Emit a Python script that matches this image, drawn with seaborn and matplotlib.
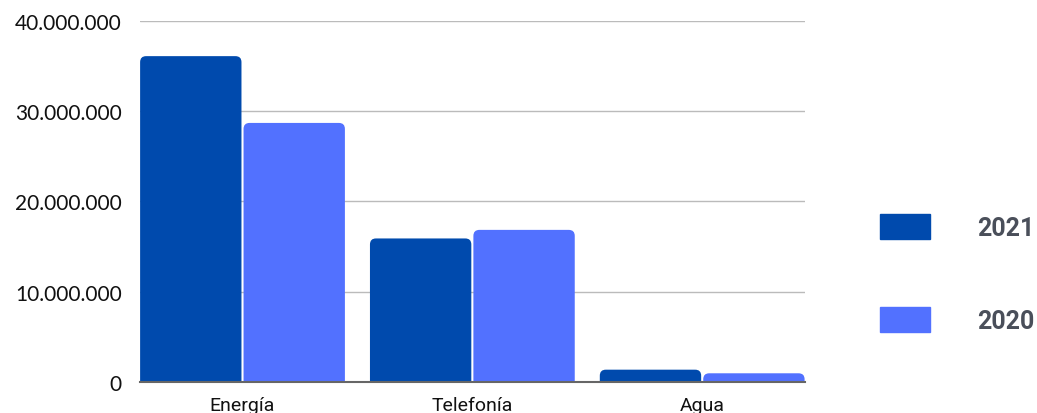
import pandas as pd
import seaborn as sns
import matplotlib.pyplot as plt
from matplotlib.ticker import FuncFormatter
from matplotlib.patches import Patch, FancyBboxPatch

categorias = ['Energía', 'Telefonía', 'Agua']
valores_2021 = [36100000, 15900000, 1360000]
valores_2020 = [28700000, 16850000, 960000]
anios = ['2021', '2020']
colores = {'2021': '#004AAD', '2020': '#5271FF'}

df = pd.DataFrame({
    'categoria': categorias * 2,
    'valor': valores_2021 + valores_2020,
    'anio': ['2021'] * 3 + ['2020'] * 3,
})

sns.set_style('white')
plt.rcParams['font.family'] = ['Lato', 'DejaVu Sans']

fig = plt.figure(figsize=(10.37, 4.14), dpi=100)
ax = fig.add_axes([0.135, 0.075, 0.641, 0.872])

sns.barplot(data=df, x='categoria', y='valor', hue='anio', hue_order=anios,
            palette=colores, width=0.9, gap=0.02, saturation=1,
            legend=False, ax=ax)

# esquinas redondeadas arriba (el borde de abajo queda bajo el eje)
r_x = 6 / 230
r_y = 6 * 40000000 / 361
for p in list(ax.patches):
    x, y, w, h = p.get_x(), p.get_y(), p.get_width(), p.get_height()
    c = p.get_facecolor()
    p.remove()
    nb = FancyBboxPatch((x, y - r_y), w, h + r_y,
                        boxstyle=f'round,pad=0,rounding_size={r_x}',
                        mutation_aspect=r_y / r_x, facecolor=c,
                        edgecolor='none', zorder=2)
    ax.add_patch(nb)

ax.set_xlim(-0.446, 2.446)
ax.set_ylim(0, 40000000)
ax.set_yticks([0, 10000000, 20000000, 30000000, 40000000])
ax.yaxis.set_major_formatter(FuncFormatter(lambda v, p: f'{int(v):,}'.replace(',', '.')))
ax.grid(axis='y', color='#bbbbbb', linewidth=1)
ax.set_axisbelow(True)
for s in ['top', 'right', 'left']:
    ax.spines[s].set_visible(False)
ax.spines['bottom'].set_color('#666666')
ax.spines['bottom'].set_linewidth(1.5)
ax.spines['bottom'].set_zorder(3)
ax.tick_params(axis='both', length=0)
ax.tick_params(axis='y', pad=13, labelsize=15, labelcolor='#111111')
ax.tick_params(axis='x', pad=10, labelsize=14, labelcolor='#111111')
for lab in ax.get_xticklabels():
    lab.set_family(['Roboto', 'DejaVu Sans'])
ax.set_xlabel('')
ax.set_ylabel('')

handles = [Patch(color=colores[a]) for a in anios]
leg = fig.legend(handles, anios, loc='center left', bbox_to_anchor=(0.8486, 0.336),
                 frameon=False, borderpad=0, borderaxespad=0,
                 handlelength=2.0, handleheight=1.16,
                 handletextpad=1.9, labelspacing=2.68,
                 prop={'family': ['Roboto', 'DejaVu Sans'],
                       'weight': 'bold', 'size': 18})
for t in leg.get_texts():
    t.set_color('#4a4f5a')

fig.savefig('out.png', dpi=100)
